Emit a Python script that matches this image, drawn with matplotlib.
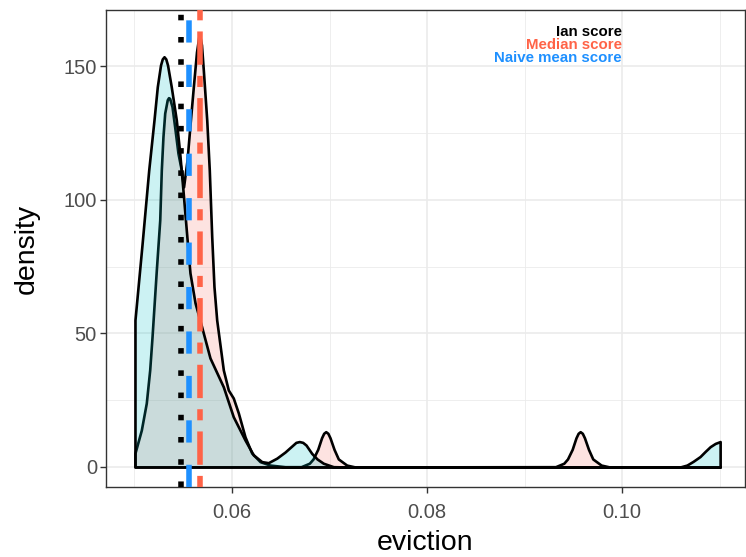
import matplotlib
matplotlib.use("Agg")
import matplotlib.pyplot as plt
from matplotlib.ticker import MultipleLocator

plt.rcParams['font.family'] = ['Liberation Sans', 'DejaVu Sans']

# ---- data ----
teal_x = [0.05005, 0.05077, 0.05146, 0.05200, 0.05234, 0.05267, 0.05285, 0.05303,
          0.05321, 0.05339, 0.05377, 0.05429, 0.05464, 0.05497, 0.05533, 0.05569,
          0.05621, 0.05689, 0.05774, 0.05911, 0.06013, 0.06133, 0.06219, 0.06305,
          0.06372, 0.06459, 0.06544, 0.06615, 0.06655, 0.06690, 0.06725, 0.06759,
          0.06817, 0.06872, 0.06936, 0.07039, 0.07159, 0.10595, 0.10664, 0.10728,
          0.10799, 0.10851, 0.10903, 0.10954, 0.11005]
teal_d = [55.0, 83.1, 111.1, 129.8, 142.3, 150.4, 152.7, 153.5,
          152.7, 150.4, 142.3, 129.8, 117.4, 103.6, 87.9, 72.6,
          61.4, 52.4, 40.8, 30.0, 18.8, 10.1, 4.5, 2.0,
          1.6, 3.3, 5.6, 7.9, 9.2, 9.5, 9.2, 8.2,
          5.1, 3.0, 1.4, 0.1, 0.0, 0.0, 0.7, 2.1,
          3.9, 5.8, 7.6, 8.8, 9.5]

salmon_x = [0.05005, 0.05070, 0.05121, 0.05156, 0.05180, 0.05224, 0.05259, 0.05275,
            0.05292, 0.05310, 0.05336, 0.05349, 0.05361, 0.05385, 0.05412, 0.05446,
            0.05480, 0.05503, 0.05539, 0.05569, 0.05605, 0.05636, 0.05665, 0.05687,
            0.05706, 0.05741, 0.05767, 0.05792, 0.05815, 0.05843, 0.05911, 0.05962,
            0.06013, 0.06065, 0.06133, 0.06202, 0.06287, 0.06390, 0.06544, 0.06708,
            0.06793, 0.06831, 0.06879, 0.06918, 0.06940, 0.06961, 0.06983, 0.07005,
            0.07046, 0.07090, 0.07176, 0.07262, 0.09317, 0.09402, 0.09440, 0.09488,
            0.09527, 0.09549, 0.09570, 0.09592, 0.09614, 0.09655, 0.09699, 0.09785,
            0.09871, 0.11005]
salmon_d = [5.2, 13.8, 23.9, 36.3, 48.7, 73.7, 92.4, 111.1,
            123.6, 132.4, 137.4, 138.2, 137.9, 134.8, 127.3, 117.4,
            111.1, 104.8, 114.9, 127.9, 142.9, 155.3, 162.3, 157.9,
            148.5, 129.8, 111.1, 86.2, 67.5, 55.0, 36.3, 28.8,
            25.8, 20.2, 11.3, 5.2, 2.0, 0.7, 0.1, 0.1,
            1.4, 3.0, 6.6, 10.9, 12.6, 13.2, 12.6, 10.9,
            6.6, 3.0, 0.7, 0.0, 0.1, 1.4, 3.0, 6.6,
            10.9, 12.6, 13.2, 12.6, 10.9, 6.6, 3.0, 0.7,
            0.0, 0.0]

ian_score = 0.05477
naive_mean_score = 0.05559
median_score = 0.05672

score_labels = ['Ian score', 'Median score', 'Naive mean score']
score_label_y = [162.8, 157.8, 152.9]
score_colors = ['black', '#FF6347', '#1E90FF']

x_ticks = [0.06, 0.08, 0.10]
x_tick_labels = ['0.06', '0.08', '0.10']
y_ticks = [0, 50, 100, 150]
y_tick_labels = ['0', '50', '100', '150']

# ---- figure ----
W, H = 746, 557
fig = plt.figure(figsize=(W / 100, H / 100), dpi=100)
ax = fig.add_axes([106 / W, 70 / H, 639 / W, 477 / H])

p1 = ax.fill_between(salmon_x, 0, salmon_d, facecolor=(0.973, 0.463, 0.427, 0.2),
                     edgecolor='black', linewidth=1.9, zorder=3)
p2 = ax.fill_between(teal_x, 0, teal_d, facecolor=(0.0, 0.749, 0.769, 0.2),
                     edgecolor='black', linewidth=1.9, zorder=4)
for p in (p1, p2):
    p.set_joinstyle('round')
    p.set_capstyle('round')

ax.axvline(ian_score, color='black', linewidth=4.0, linestyle=(0, (1, 3)),
           dash_capstyle='butt', zorder=6)
ax.axvline(naive_mean_score, color='#1E90FF', linewidth=4.0, linestyle=(0, (4, 4)),
           dash_capstyle='butt', zorder=6)
ax.axvline(median_score, color='#FF6347', linewidth=4.0, linestyle=(0, (2, 2, 6, 2)),
           dash_capstyle='butt', zorder=6)

for lab, yy, col in zip(score_labels, score_label_y, score_colors):
    ax.text(0.10, yy, lab, ha='right', va='center', color=col,
            fontsize=10.8, fontweight='bold', zorder=7)

ax.set_xlim(0.04708, 0.1126)
ax.set_ylim(-7.5, 171.0)

ax.set_xticks(x_ticks)
ax.set_xticklabels(x_tick_labels)
ax.set_yticks(y_ticks)
ax.set_yticklabels(y_tick_labels)
ax.xaxis.set_minor_locator(MultipleLocator(0.01))
ax.yaxis.set_minor_locator(MultipleLocator(25))

ax.grid(which='major', color='#EBEBEB', linewidth=1.2, zorder=0)
ax.grid(which='minor', color='#EBEBEB', linewidth=0.6, zorder=0)
ax.set_axisbelow(True)

for sp in ax.spines.values():
    sp.set_color('#333333')
    sp.set_linewidth(1.0)

ax.tick_params(which='major', length=4.5, width=1.0, color='#333333',
               labelsize=14.5, labelcolor='#4D4D4D')
ax.tick_params(axis='y', which='major', pad=2)
ax.tick_params(axis='x', which='major', pad=7)
ax.tick_params(which='minor', length=0)

ax.set_xlabel('eviction', fontsize=20.5, color='black', labelpad=5.5)
ax.set_ylabel('density', fontsize=20.5, color='black', labelpad=17)

fig.savefig('out.png', dpi=100)
